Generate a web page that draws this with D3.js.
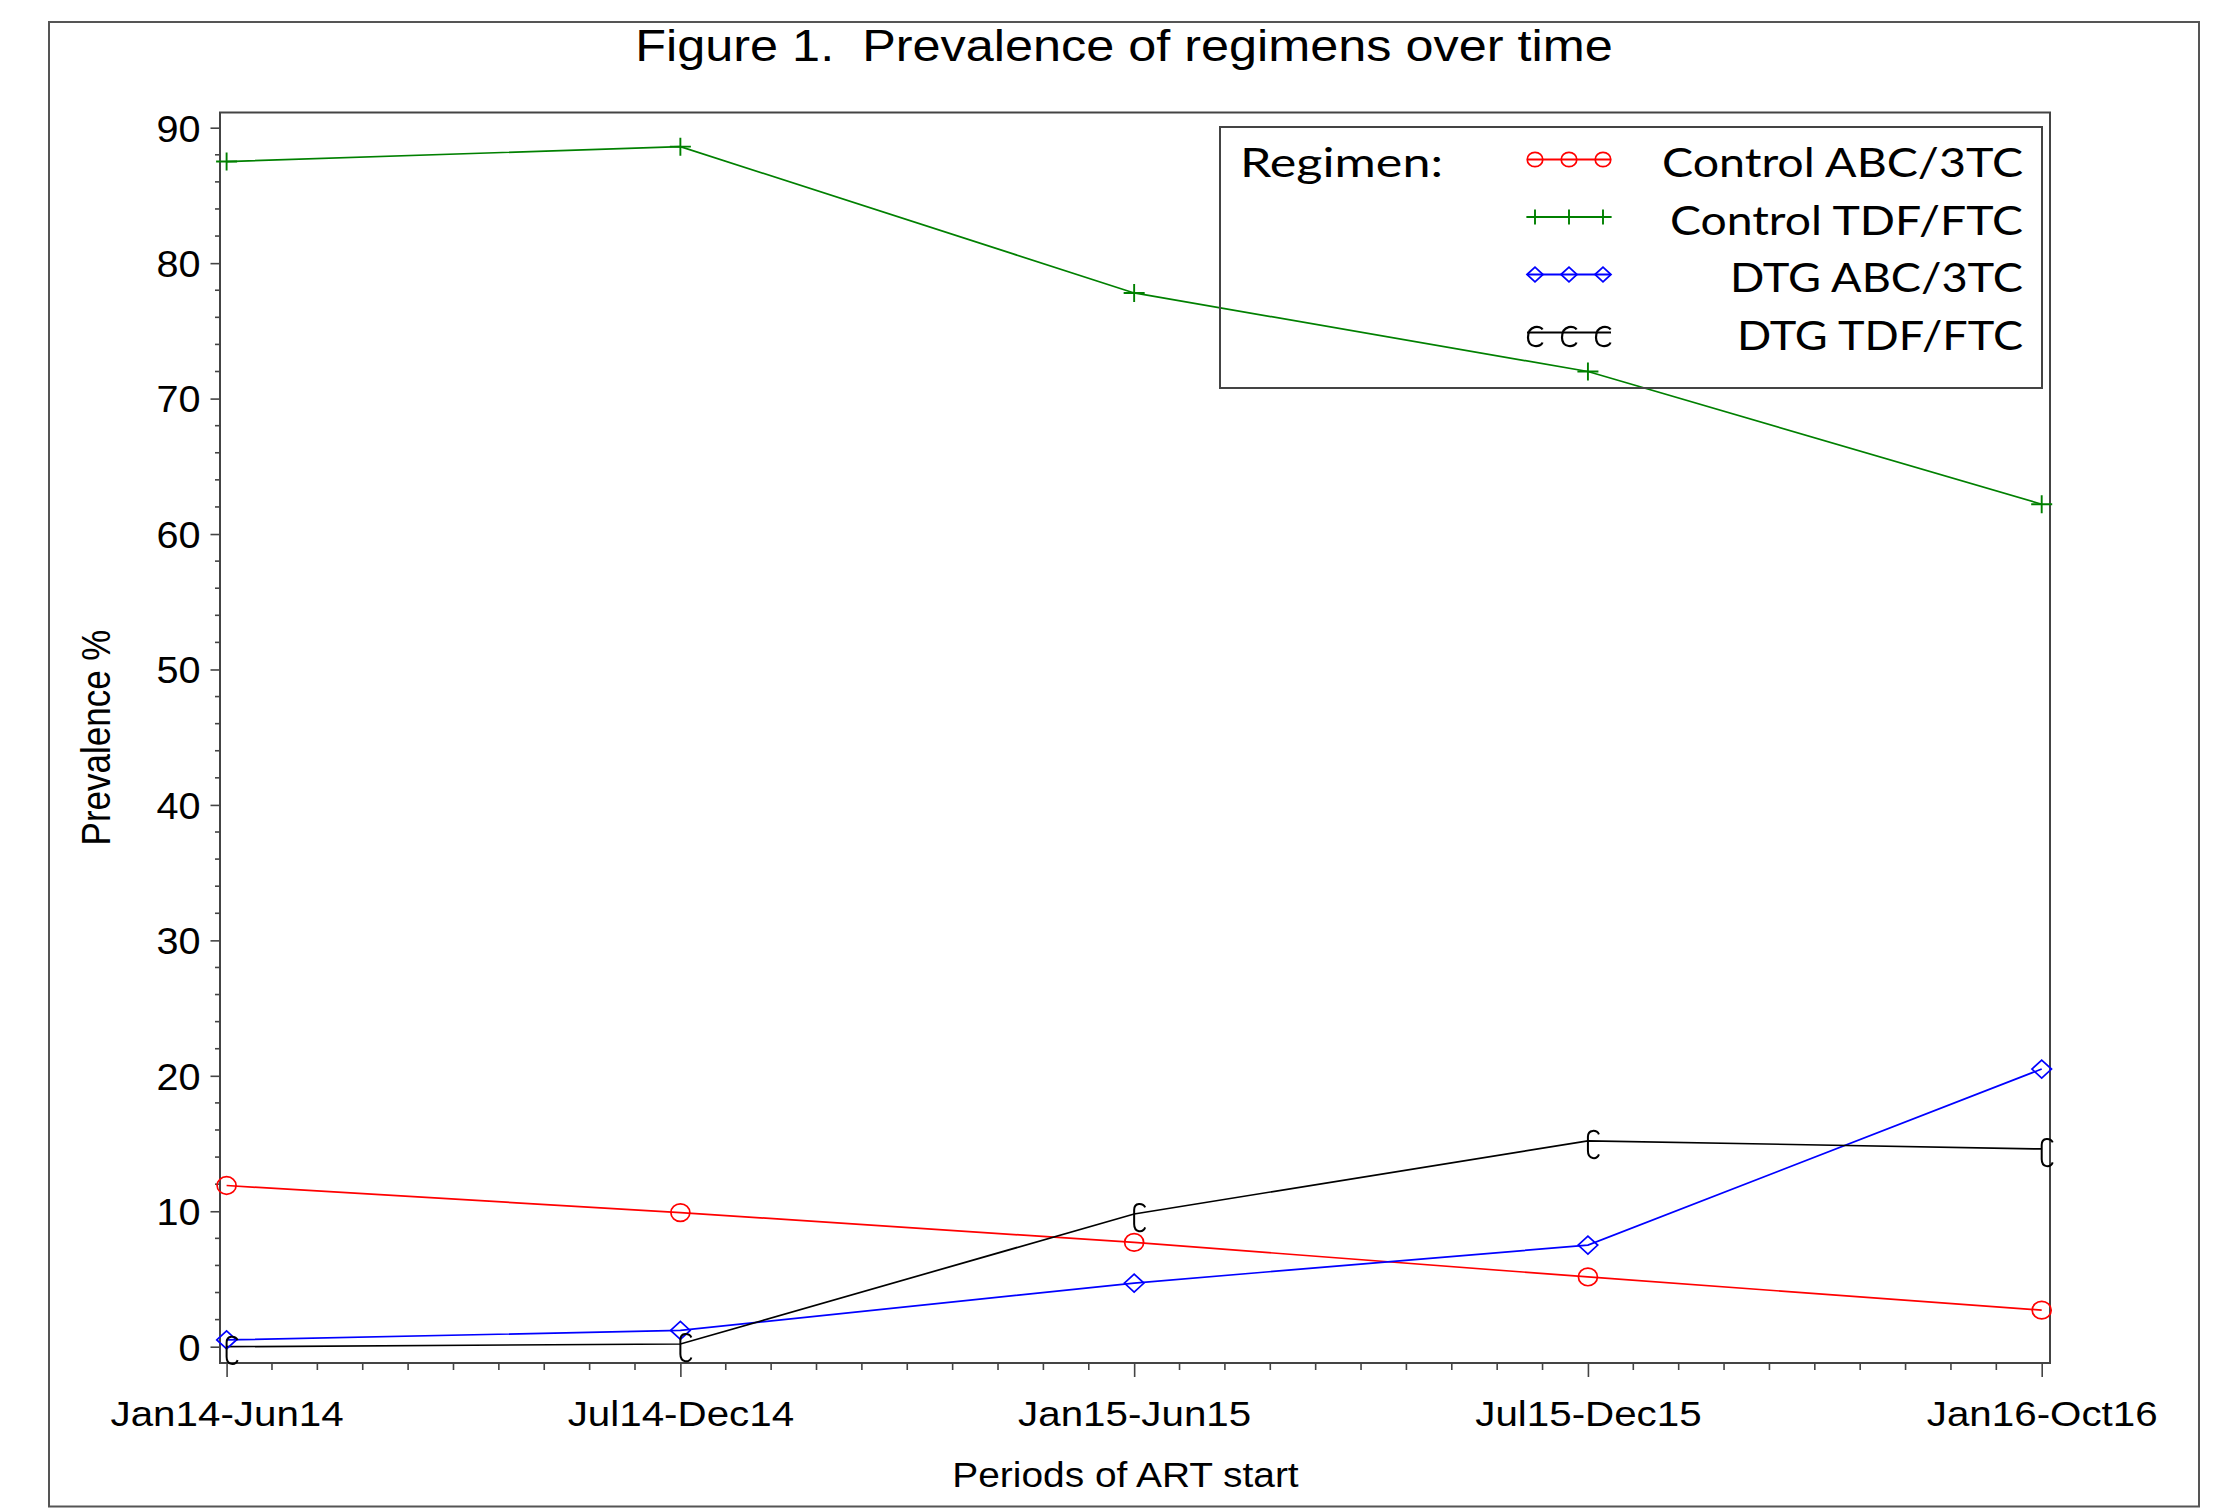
<!DOCTYPE html>
<html>
<head>
<meta charset="utf-8">
<script src="https://cdn.jsdelivr.net/npm/d3@7"></script>
<style>
  html, body { margin: 0; padding: 0; background: #fff; }
  svg { display: block; }
  text { font-family: "Liberation Sans", Arial, sans-serif; fill: #000; }
  .leg text { font-family: Lato, "Open Sans", sans-serif; }
  .pre { white-space: pre; }
</style>
</head>
<body>
<svg id="chart" width="2226" height="1508"></svg>
<script>
// ---------------- data ----------------
const categories = ["Jan14-Jun14", "Jul14-Dec14", "Jan15-Jun15", "Jul15-Dec15", "Jan16-Oct16"];
const controlABC = [11.9, 9.9, 7.7, 5.15, 2.7];
const controlTDF = [87.5, 88.6, 77.8, 72.0, 62.2];
const dtgABC = [0.5, 1.2, 4.7, 7.5, 20.5];
const dtgTDF = [0.0, 0.2, 9.8, 15.2, 14.6];
const seriesNames = ["Control ABC/3TC", "Control TDF/FTC", "DTG ABC/3TC", "DTG TDF/FTC"];
const yTicks = [0, 10, 20, 30, 40, 50, 60, 70, 80, 90];
const titleText = "Figure 1.  Prevalence of regimens over time";
const xTitle = "Periods of ART start";
const yTitle = "Prevalence %";
const legendTitle = "Regimen:";

// ---------------- layout ----------------
const svg = d3.select("#chart");
const plot = { left: 220, top: 112.5, right: 2050, bottom: 1363 };
const x = d3.scalePoint().domain(categories).range([226.6, 2041.7]);
const xi = d3.scaleLinear().domain([0, categories.length - 1]).range([226.6, 2041.7]);
const y = d3.scaleLinear().domain([0, 90]).range([1346.7, 127.7]);

const series = [
  { name: seriesNames[0], values: controlABC, color: "#ff0000", marker: "circle" },
  { name: seriesNames[1], values: controlTDF, color: "#008000", marker: "plus" },
  { name: seriesNames[2], values: dtgABC, color: "#0000ff", marker: "diamond" },
  { name: seriesNames[3], values: dtgTDF, color: "#000000", marker: "C" }
];

function stretchText(sel, sx) {
  sel.each(function () {
    const t = d3.select(this);
    const x0 = +t.attr("x") || 0;
    const y0 = +t.attr("y") || 0;
    t.attr("x", 0).attr("y", 0)
     .attr("transform", `translate(${x0},${y0}) scale(${sx},1)`);
  });
}

// outer frame
svg.append("rect").attr("x", 49).attr("y", 22).attr("width", 2150).attr("height", 1484.5)
  .attr("fill", "none").attr("stroke", "#555").attr("stroke-width", 2);

// title
const tt = svg.append("text").attr("class", "pre").attr("xml:space", "preserve")
  .attr("x", 1124).attr("y", 61)
  .attr("text-anchor", "middle").attr("font-size", 45).text(titleText);
stretchText(tt, 1.12);

// plot frame
svg.append("rect").attr("x", plot.left).attr("y", plot.top)
  .attr("width", plot.right - plot.left).attr("height", plot.bottom - plot.top)
  .attr("fill", "none").attr("stroke", "#444").attr("stroke-width", 2);

// y axis
const yAxisG = svg.append("g").attr("transform", `translate(${plot.left},0)`);
const yAxis = d3.axisLeft(y).tickValues(yTicks).tickSize(9.5).tickPadding(10).tickFormat(d3.format("d"));
yAxisG.call(yAxis);
yAxisG.select(".domain").remove();
yAxisG.selectAll(".tick line").attr("stroke", "#444").attr("stroke-width", 1.6);
yAxisG.selectAll(".tick text").attr("font-size", 37).attr("font-family", "Liberation Sans, Arial, sans-serif")
  .attr("dy", "0.36em").attr("fill", "#000");
stretchText(yAxisG.selectAll(".tick text"), 1.07);
// y minor ticks
const yMinor = d3.range(0, 91, 2).filter(v => v % 10 !== 0);
svg.append("g").selectAll("line").data(yMinor).join("line")
  .attr("x1", plot.left - 5).attr("x2", plot.left)
  .attr("y1", d => y(d)).attr("y2", d => y(d))
  .attr("stroke", "#444").attr("stroke-width", 1.6);

// x axis
const xAxisG = svg.append("g").attr("transform", `translate(0,${plot.bottom})`);
const xAxis = d3.axisBottom(x).tickSize(14).tickPadding(0);
xAxisG.call(xAxis);
xAxisG.select(".domain").remove();
xAxisG.selectAll(".tick line").attr("stroke", "#444").attr("stroke-width", 1.6);
xAxisG.selectAll(".tick text").attr("font-size", 36).attr("font-family", "Liberation Sans, Arial, sans-serif")
  .attr("y", 63).attr("dy", 0).attr("fill", "#000");
stretchText(xAxisG.selectAll(".tick text"), 1.12);
// x minor ticks: 10 intervals between categories
const xMinor = d3.range(0, (categories.length - 1) * 10 + 1).filter(k => k % 10 !== 0).map(k => k / 10);
svg.append("g").selectAll("line").data(xMinor).join("line")
  .attr("x1", d => xi(d)).attr("x2", d => xi(d))
  .attr("y1", plot.bottom).attr("y2", plot.bottom + 7)
  .attr("stroke", "#444").attr("stroke-width", 1.6);

// axis titles
const xt = svg.append("text").attr("x", 1125.5).attr("y", 1487)
  .attr("text-anchor", "middle").attr("font-size", 36).text(xTitle);
stretchText(xt, 1.08);
svg.append("text").attr("text-anchor", "middle").attr("font-size", 35)
  .attr("transform", `translate(110,737.5) scale(1.17,1) rotate(-90)`).text(yTitle);

// marker drawing
function drawMarker(g, type, color, s) {
  if (type === "circle") {
    g.append("ellipse").attr("rx", 9.5 * s).attr("ry", 8.8 * s)
      .attr("fill", "none").attr("stroke", color).attr("stroke-width", 1.7);
  } else if (type === "diamond") {
    const w = 9.8 * s, h = 9 * s;
    g.append("path").attr("d", `M${-w},0L0,${-h}L${w},0L0,${h}Z`)
      .attr("fill", "none").attr("stroke", color).attr("stroke-width", 1.7);
  } else if (type === "plus") {
    const w = 10.5 * s, h = 9 * s;
    g.append("path").attr("d", `M${-w},0H${w}M0,${-h}V${h}`)
      .attr("fill", "none").attr("stroke", color).attr("stroke-width", 1.9);
  } else if (type === "C") {
    g.append("path").attr("d", "M11,-6.5 C9,-11 0,-12 0,-4 L0,10 C0,19 9,19 11,13.5")
      .attr("fill", "none").attr("stroke", color).attr("stroke-width", 2);
  }
}

// series lines + markers
const line = d3.line().x((d, i) => x(categories[i])).y(d => y(d));
series.forEach(s => {
  svg.append("path").datum(s.values).attr("d", line)
    .attr("fill", "none").attr("stroke", s.color).attr("stroke-width", 1.7);
});
series.forEach(s => {
  s.values.forEach((v, i) => {
    const g = svg.append("g").attr("transform", `translate(${x(categories[i])},${y(v)})`);
    drawMarker(g, s.marker, s.color, 1);
  });
});

// legend (transparent box)
const leg = svg.append("g").attr("class", "leg");
leg.append("rect").attr("x", 1220).attr("y", 127).attr("width", 822).attr("height", 261)
  .attr("fill", "none").attr("stroke", "#444").attr("stroke-width", 2);
leg.append("text").attr("x", 1240).attr("y", 177).attr("font-size", 40)
  .attr("textLength", 203).attr("lengthAdjust", "spacingAndGlyphs").text(legendTitle);
const legWidths = [361, 353, 293, 286];
const rowBase = [177, 234.5, 292, 350];
series.forEach((s, i) => {
  const ly = rowBase[i] - 17.5;
  leg.append("line").attr("x1", 1527).attr("x2", 1611).attr("y1", ly).attr("y2", ly)
    .attr("stroke", s.color).attr("stroke-width", 2.2);
  [1535, 1569, 1603].forEach(mx => {
    const g = leg.append("g").attr("transform", `translate(${mx},${ly})`);
    if (s.marker === "C") {
      g.append("path").attr("d", "M7.5,-3 C6,-7 -7,-8 -7,5 C-7,16 6,15 7.5,10")
        .attr("fill", "none").attr("stroke", s.color).attr("stroke-width", 2.2);
    } else {
      drawMarker(g, s.marker, s.color, 0.82);
    }
  });
  leg.append("text").attr("x", 2023).attr("y", rowBase[i]).attr("font-size", 40)
    .attr("text-anchor", "end").attr("textLength", legWidths[i]).attr("lengthAdjust", "spacingAndGlyphs")
    .text(s.name);
});
</script>
</body>
</html>
